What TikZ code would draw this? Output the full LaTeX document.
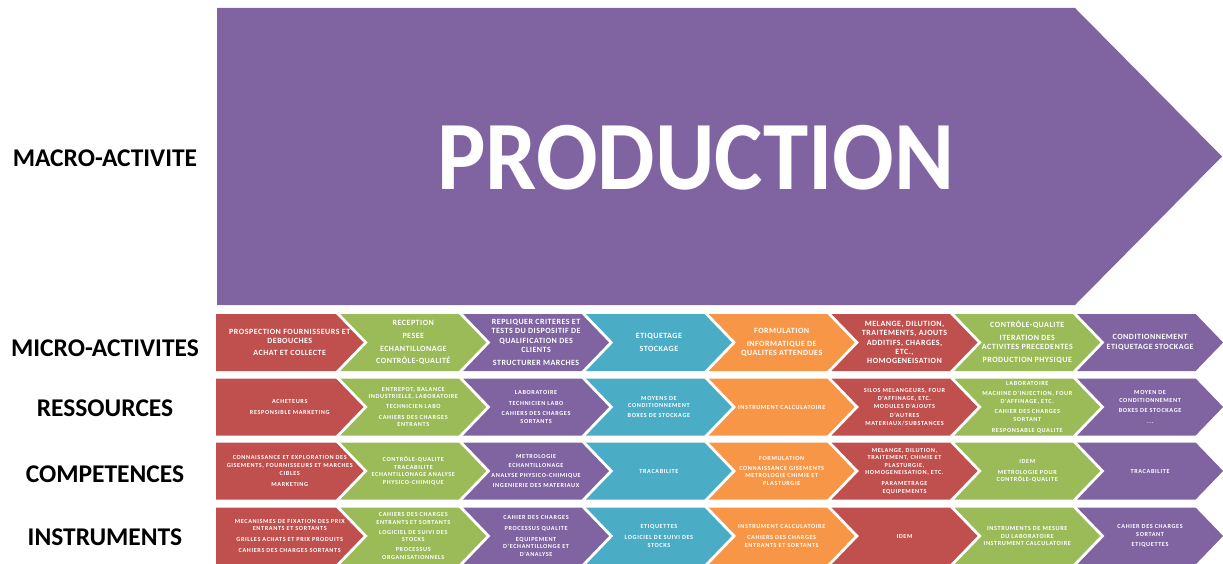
\documentclass[tikz,border=0pt]{standalone}
\usepackage{fontspec}
\setmainfont{Carlito}
\newfontfamily\mfont{Carlito}[LetterSpace=6]
\newfontfamily\sfontx{Carlito}[LetterSpace=10]
\definecolor{cred}{HTML}{C0504D}
\definecolor{cgreen}{HTML}{9BBB59}
\definecolor{cpurple}{HTML}{8064A2}
\definecolor{cteal}{HTML}{4BACC6}
\definecolor{corange}{HTML}{F79646}
\tikzset{
  mtxt/.style={text=white, align=center, inner sep=0pt, font=\mfont\fontsize{8}{9.4}\selectfont\bfseries},
  stxt/.style={text=white, align=center, inner sep=0pt, font=\sfontx\fontsize{6.2}{7.6}\selectfont\bfseries},
  lbl/.style={text=black, inner sep=0pt, font=\fontsize{25.5}{28}\selectfont\bfseries},
}
\newcommand{\chev}[6]{%
  \pgfmathsetmacro{\xa}{#1==0 ? 216 : 217.5+122.8*#1}%
  \pgfmathsetmacro{\xr}{#1==0 ? 336 : \xa+118.5}%
  \pgfmathsetmacro{\xn}{#1==0 ? \xa : \xa+27.5}%
  \pgfmathsetmacro{\xt}{\xr+27.5}%
  \pgfmathsetmacro{\yb}{#2+57}%
  \pgfmathsetmacro{\ym}{#2+28.5}%
  \pgfmathsetmacro{\xc}{(\xa+\xt)/2}%
  \fill[#3] (\xa,#2) -- (\xr,#2) -- (\xt,\ym) -- (\xr,\yb) -- (\xa,\yb) -- (\xn,\ym) -- cycle;
  \node[#5] (#4) at (\xc,\ym) {#6};
}
\begin{document}
\begin{tikzpicture}[x=1pt,y=-1pt]
\useasboundingbox (0,0) rectangle (1223,564);
% macro arrow
\fill[cpurple] (217,8) -- (1075,8) -- (1222,156.5) -- (1075,305) -- (217,305) -- cycle;
\node[text=white, inner sep=0pt, font=\fontsize{98}{100}\selectfont\bfseries] (prod) at (696,157.5) {\scalebox{0.93}[1]{PRODUCTION}};
% labels
\node[lbl] (lmacro) at (105,158) {MACRO-ACTIVITE};
\node[lbl] (lmicro) at (105,348.5) {MICRO-ACTIVITES};
\node[lbl] (lres) at (105,408.5) {RESSOURCES};
\node[lbl] (lcomp) at (105,474.5) {COMPETENCES};
\node[lbl] (linst) at (105,537) {INSTRUMENTS};
% row 1
\chev{0}{314}{cred}{m0}{mtxt}{PROSPECTION FOURNISSEURS ET\\DEBOUCHES\\[3pt]ACHAT ET COLLECTE}
\chev{1}{314}{cgreen}{m1}{mtxt}{RECEPTION\\[3.5pt]PESEE\\[3.5pt]ECHANTILLONAGE\\[3.5pt]CONTRÔLE-QUALITÉ}
\chev{2}{314}{cpurple}{m2}{mtxt}{REPLIQUER CRITERES ET\\TESTS DU DISPOSITIF DE\\QUALIFICATION DES\\CLIENTS\\[3.5pt]STRUCTURER MARCHES}
\chev{3}{314}{cteal}{m3}{mtxt}{ETIQUETAGE\\[3.5pt]STOCKAGE}
\chev{4}{314}{corange}{m4}{mtxt}{FORMULATION\\[3.5pt]INFORMATIQUE DE\\QUALITES ATTENDUES}
\chev{5}{314}{cred}{m5}{mtxt}{MELANGE, DILUTION,\\TRAITEMENTS, AJOUTS\\ADDITIFS, CHARGES,\\ETC.,\\HOMOGENEISATION}
\chev{6}{314}{cgreen}{m6}{mtxt}{CONTRÔLE-QUALITE\\[3.5pt]ITERATION DES\\ACTIVITES PRECEDENTES\\[3.5pt]PRODUCTION PHYSIQUE}
\chev{7}{314}{cpurple}{m7}{mtxt}{CONDITIONNEMENT\\ETIQUETAGE STOCKAGE}
% row 2
\chev{0}{378.5}{cred}{r0}{stxt}{ACHETEURS\\[3.5pt]RESPONSIBLE MARKETING}
\chev{1}{378.5}{cgreen}{r1}{stxt}{ENTREPOT, BALANCE\\INDUSTRIELLE, LABORATOIRE\\[2pt]TECHNICIEN LABO\\[3.5pt]CAHIERS DES CHARGES\\ENTRANTS}
\chev{2}{378.5}{cpurple}{r2}{stxt}{LABORATOIRE\\[3.5pt]TECHNICIEN LABO\\[2.5pt]CAHIERS DES CHARGES\\SORTANTS}
\chev{3}{378.5}{cteal}{r3}{stxt}{MOYENS DE\\CONDITIONNEMENT\\[2.5pt]BOXES DE STOCKAGE}
\chev{4}{378.5}{corange}{r4}{stxt}{INSTRUMENT CALCULATOIRE}
\chev{5}{378.5}{cred}{r5}{stxt}{SILOS MELANGEURS, FOUR\\D'AFFINAGE, ETC.\\[1pt]MODULES D'AJOUTS\\[1pt]D'AUTRES\\MATERIAUX/SUBSTANCES}
\chev{6}{378.5}{cgreen}{r6}{stxt}{LABORATOIRE\\[3pt]MACHINE D'INJECTION, FOUR\\D'AFFINAGE, ETC.\\[3pt]CAHIER DES CHARGES\\SORTANT\\[3pt]RESPONSABLE QUALITE}
\chev{7}{378.5}{cpurple}{r7}{stxt}{MOYEN DE\\CONDITIONNEMENT\\[2.5pt]BOXES DE STOCKAGE\\[3.5pt]...}
% row 3
\chev{0}{442.5}{cred}{c0}{stxt}{CONNAISSANCE ET EXPLORATION DES\\GISEMENTS, FOURNISSEURS ET MARCHES\\CIBLES\\[3.5pt]MARKETING}
\chev{1}{442.5}{cgreen}{c1}{stxt}{CONTRÔLE-QUALITE\\TRACABILITE\\ECHANTILLONAGE ANALYSE\\PHYSICO-CHIMIQUE}
\chev{2}{442.5}{cpurple}{c2}{stxt}{METROLOGIE\\[2pt]ECHANTILLONAGE\\[2.5pt]ANALYSE PHYSICO-CHIMIQUE\\[2.5pt]INGENIERIE DES MATERIAUX}
\chev{3}{442.5}{cteal}{c3}{stxt}{TRACABILITE}
\chev{4}{442.5}{corange}{c4}{stxt}{FORMULATION\\[2pt]CONNAISSANCE GISEMENTS\\METROLOGIE CHIMIE ET\\PLASTURGIE}
\chev{5}{442.5}{cred}{c5}{stxt}{MELANGE, DILUTION,\\TRAITEMENT, CHIMIE ET\\PLASTURGIE,\\HOMOGENEISATION, ETC.\\[3pt]PARAMETRAGE\\EQUIPEMENTS}
\chev{6}{442.5}{cgreen}{c6}{stxt}{IDEM\\[3pt]METROLOGIE POUR\\CONTRÔLE-QUALITE}
\chev{7}{442.5}{cpurple}{c7}{stxt}{TRACABILITE}
% row 4
\chev{0}{507.5}{cred}{i0}{stxt}{MECANISMES DE FIXATION DES PRIX\\ENTRANTS ET SORTANTS\\[2.5pt]GRILLES ACHATS ET PRIX PRODUITS\\[4pt]CAHIERS DES CHARGES SORTANTS}
\chev{1}{507.5}{cgreen}{i1}{stxt}{CAHIERS DES CHARGES\\ENTRANTS ET SORTANTS\\[2.5pt]LOGICIEL DE SUIVI DES\\STOCKS\\[2.5pt]PROCESSUS\\ORGANISATIONNELS}
\chev{2}{507.5}{cpurple}{i2}{stxt}{CAHIER DES CHARGES\\[3pt]PROCESSUS QUALITE\\[3pt]EQUIPEMENT\\D'ECHANTILLONGE ET\\D'ANALYSE}
\chev{3}{507.5}{cteal}{i3}{stxt}{ETIQUETTES\\[3pt]LOGICIEL DE SUIVI DES\\STOCKS}
\chev{4}{507.5}{corange}{i4}{stxt}{INSTRUMENT CALCULATOIRE\\[3.5pt]CAHIERS DES CHARGES\\ENTRANTS ET SORTANTS}
\chev{5}{507.5}{cred}{i5}{stxt}{IDEM}
\chev{6}{507.5}{cgreen}{i6}{stxt}{INSTRUMENTS DE MESURE\\DU LABORATOIRE\\INSTRUMENT CALCULATOIRE}
\chev{7}{507.5}{cpurple}{i7}{stxt}{CAHIER DES CHARGES\\SORTANT\\[2.5pt]ETIQUETTES}
\end{tikzpicture}
\end{document}
